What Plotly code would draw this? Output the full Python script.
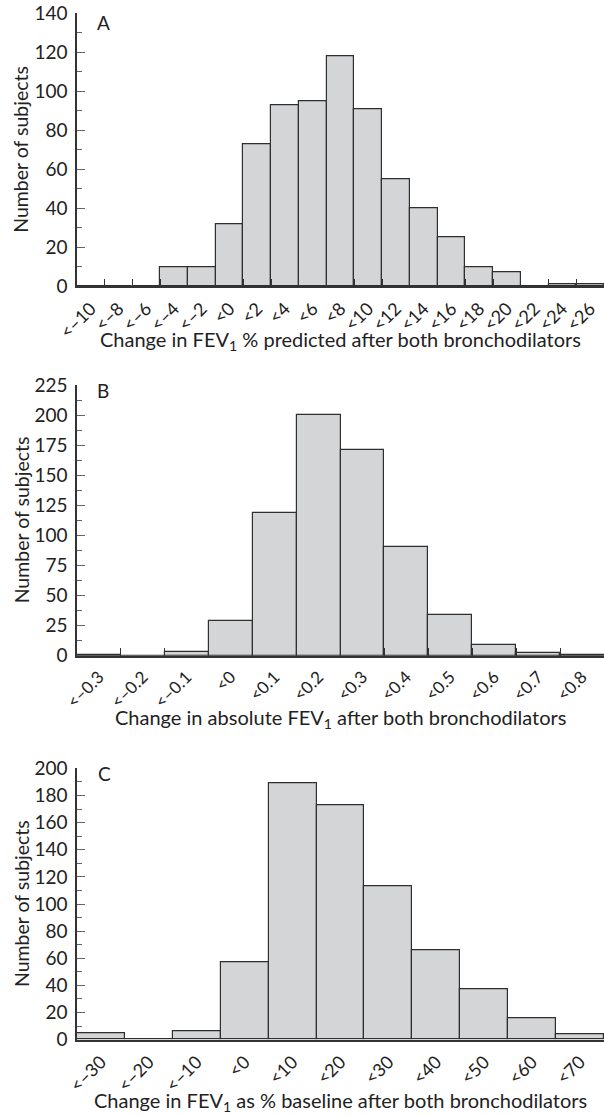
import plotly.graph_objects as go

# ---------------- data ----------------
cats_a = ["<\u201310", "<\u20138", "<\u20136", "<\u20134", "<\u20132", "<0", "<2", "<4", "<6", "<8",
          "<10", "<12", "<14", "<16", "<18", "<20", "<22", "<24", "<26"]
vals_a = [0, 0, 0, 10, 10, 32, 73, 93, 95, 118, 91, 55, 40, 25, 10, 7, 0, 1, 1]

cats_b = ["<\u20130.3", "<\u20130.2", "<\u20130.1", "<0", "<0.1", "<0.2", "<0.3", "<0.4",
          "<0.5", "<0.6", "<0.7", "<0.8"]
vals_b = [1, 0, 3, 29, 119, 200, 171, 90, 34, 9, 2, 1]

cats_c = ["<\u201330", "<\u201320", "<\u201310", "<0", "<10", "<20", "<30", "<40", "<50", "<60", "<70"]
vals_c = [5, 0, 6, 57, 189, 173, 113, 66, 37, 16, 4]

titles_x = [
    "Change in FEV<sub>1</sub> % predicted after both bronchodilators",
    "Change in absolute FEV<sub>1</sub> after both bronchodilators",
    "Change in FEV<sub>1</sub> as % baseline after both bronchodilators",
]
title_y = "Number of subjects"
panel_letters = ["A", "B", "C"]
y_ranges = [140, 225, 200]
y_dticks = [20, 25, 20]
y_minor = [10, 12.5, 10]

# ---------------- layout geometry (reference pixels) ----------------
W, H = 604, 1116
x_left = 77
panels_px = [(13.3, 286.3), (385.0, 655.7), (768.3, 1039.7)]  # (top, bottom)
xtitle_px = [340, 718, 1101.5]
letter_px = [(103, 22), (103, 390), (104, 773)]
xtick_sizes = [18, 17, 18]

FONT = "Lato"
TXT = "#222222"
AX = "#333333"

def py(v):
    return 1 - v / H

def px(v):
    return v / W

fig = go.Figure()
cats_all = [cats_a, cats_b, cats_c]
vals_all = [vals_a, vals_b, vals_c]

layout = dict(
    width=W, height=H,
    margin=dict(l=0, r=0, t=0, b=0),
    paper_bgcolor="white", plot_bgcolor="white",
    showlegend=False, bargap=0,
    font=dict(family=FONT, size=17, color=TXT),
)

annotations = []
for i in range(3):
    xa = "x" if i == 0 else f"x{i+1}"
    ya = "y" if i == 0 else f"y{i+1}"
    fig.add_trace(go.Bar(
        x=cats_all[i], y=vals_all[i], xaxis=xa, yaxis=ya, width=1,
        marker=dict(color="#d4d5d7", line=dict(color="#2f2f2f", width=1.2)),
    ))
    top, bot = panels_px[i]
    n = len(cats_all[i])
    layout["xaxis" if i == 0 else f"xaxis{i+1}"] = dict(
        domain=[x_left / W, 1], anchor=ya, type="category",
        range=[-0.5, n - 0.5],
        showline=True, linecolor=AX, linewidth=1.5,
        ticks="" if i == 2 else "inside", tickson="boundaries",
        ticklen=8, tickcolor=AX, tickwidth=1.2,
        ticklabelstandoff=3, ticklabeloverflow="allow",
        tickangle=-45, tickfont=dict(family=FONT, size=xtick_sizes[i], color=TXT),
        showgrid=False, zeroline=False, automargin=False, fixedrange=True,
    )
    layout["yaxis" if i == 0 else f"yaxis{i+1}"] = dict(
        domain=[py(bot), py(top)], anchor=xa,
        range=[0, y_ranges[i]], dtick=y_dticks[i], tick0=0,
        showline=True, linecolor=AX, linewidth=1.5,
        ticks="inside", ticklen=8, tickcolor="#666666", tickwidth=1.2,
        minor=dict(ticks="inside", ticklen=5, dtick=y_minor[i], tick0=0,
                   tickcolor="#666666", tickwidth=1.2),
        ticklabelstandoff=4, ticklabeloverflow="allow",
        tickfont=dict(family=FONT, size=19, color=TXT),
        showgrid=False, zeroline=False, automargin=False, fixedrange=True,
    )
    annotations.append(dict(
        text=titles_x[i], xref="paper", yref="paper",
        x=(x_left / W + 1) / 2, y=py(xtitle_px[i]),
        xanchor="center", yanchor="middle", showarrow=False,
        font=dict(family=FONT, size=20, color=TXT),
    ))
    annotations.append(dict(
        text=title_y, xref="paper", yref="paper",
        x=px(21), y=py((top + bot) / 2), textangle=-90,
        xanchor="center", yanchor="middle", showarrow=False,
        font=dict(family=FONT, size=19.5, color=TXT),
    ))
    lx, ly = letter_px[i]
    annotations.append(dict(
        text=panel_letters[i], xref="paper", yref="paper",
        x=px(lx), y=py(ly), xanchor="center", yanchor="middle", showarrow=False,
        font=dict(family=FONT, size=19, color=TXT),
    ))

layout["annotations"] = annotations
fig.update_layout(**layout)
fig.write_html(
    "out.html",
    config={"displayModeBar": False},
    post_script="document.body.style.margin='0';document.body.style.overflow='hidden';",
)
